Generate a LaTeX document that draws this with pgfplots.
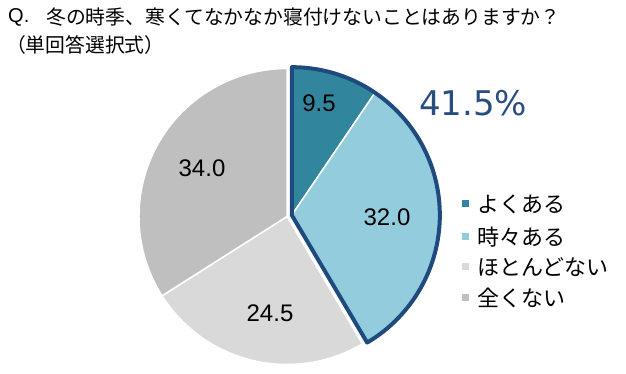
\documentclass[border=0pt]{standalone}
\usepackage{pgfplots}
\pgfplotsset{compat=1.18}
\usepackage{fontspec}
\setmainfont{Liberation Sans}
\newfontfamily\jp{Noto Sans CJK JP}
\newfontfamily\dv{DejaVu Sans}
\definecolor{cA}{HTML}{31859C}
\definecolor{cB}{HTML}{93CDDD}
\definecolor{cC}{HTML}{D9D9D9}
\definecolor{cD}{HTML}{BFBFBF}
\definecolor{outl}{HTML}{1F4A7E}
\definecolor{big}{HTML}{2A4D80}
% data (percent)
\def\vA{9.5}\def\vB{32.0}\def\vC{24.5}\def\vD{34.0}
\begin{document}
\begin{tikzpicture}
\useasboundingbox (0,0) rectangle (626bp,374bp);
\begin{axis}[
  at={(0,0)}, anchor=south west,
  scale only axis, width=626bp, height=374bp,
  xmin=0, xmax=626, ymin=0, ymax=374,
  hide axis, clip=false,
]
\pgfmathsetmacro{\aA}{90}
\pgfmathsetmacro{\aB}{90-3.6*\vA}
\pgfmathsetmacro{\aC}{\aB-3.6*\vB}
\pgfmathsetmacro{\aD}{\aC-3.6*\vC}
\pgfmathsetmacro{\aE}{\aD-3.6*\vD}
\pgfmathsetmacro{\mid}{(\aA+\aC)/2}
% non-exploded slices, center (287,157.5)
\filldraw[fill=cC, draw=white, line width=1.5bp] (axis cs:287,157.5) -- ++(\aC:148bp) arc[start angle=\aC, end angle=\aD, radius=148bp] -- cycle;
\filldraw[fill=cD, draw=white, line width=1.5bp] (axis cs:287,157.5) -- ++(\aD:148bp) arc[start angle=\aD, end angle=\aE, radius=148bp] -- cycle;
% exploded slices
\filldraw[fill=cA, draw=white, line width=1.5bp] (axis cs:287,157.5) ++(\mid:5bp) -- ++(\aA:148bp) arc[start angle=\aA, end angle=\aB, radius=148bp] -- cycle;
\filldraw[fill=cB, draw=white, line width=1.5bp] (axis cs:287,157.5) ++(\mid:5bp) -- ++(\aB:148bp) arc[start angle=\aB, end angle=\aC, radius=148bp] -- cycle;
\draw[outl, line width=4bp, line join=round] (axis cs:287,157.5) ++(\mid:5bp) -- ++(\aA:148bp) arc[start angle=\aA, end angle=\aC, radius=148bp] -- cycle;
% data labels
\node[font=\fontsize{24bp}{28bp}\selectfont] at (axis cs:319,271) {\vA};
\node[font=\fontsize{24bp}{28bp}\selectfont] at (axis cs:387,157) {\vB};
\node[font=\fontsize{24bp}{28bp}\selectfont] at (axis cs:270,61) {\vC};
\node[font=\fontsize{24bp}{28bp}\selectfont] at (axis cs:202,206) {\vD};
% big label
\node[font=\dv\fontsize{34bp}{40bp}\selectfont, text=big] at (axis cs:473,271) {41.5\%};
% title
\node[anchor=west, inner sep=0pt, font=\fontsize{20bp}{24bp}\selectfont] at (axis cs:8,357) {Q.};
\node[anchor=west, inner sep=0pt, font=\jp\fontsize{19.8bp}{24bp}\selectfont] at (axis cs:46,357) {冬の時季、寒くてなかなか寝付けないことはありますか？};
\node[anchor=west, inner sep=0pt, font=\jp\fontsize{19.8bp}{24bp}\selectfont] at (axis cs:6,329) {（単回答選択式）};
% legend
\fill[cA] (axis cs:462,166.5) rectangle (axis cs:469,173.5);
\fill[cB] (axis cs:462,133.5) rectangle (axis cs:469,140.5);
\fill[cC] (axis cs:462,103.5) rectangle (axis cs:469,110.5);
\fill[cD] (axis cs:462,72.5) rectangle (axis cs:469,79.5);
\node[anchor=west, inner sep=0pt, font=\jp\fontsize{22bp}{26bp}\selectfont] at (axis cs:477,170) {よくある};
\node[anchor=west, inner sep=0pt, font=\jp\fontsize{22bp}{26bp}\selectfont] at (axis cs:477,137) {時々ある};
\node[anchor=west, inner sep=0pt, font=\jp\fontsize{22bp}{26bp}\selectfont] at (axis cs:477,107) {ほとんどない};
\node[anchor=west, inner sep=0pt, font=\jp\fontsize{22bp}{26bp}\selectfont] at (axis cs:477,76) {全くない};
\end{axis}
\end{tikzpicture}
\end{document}
